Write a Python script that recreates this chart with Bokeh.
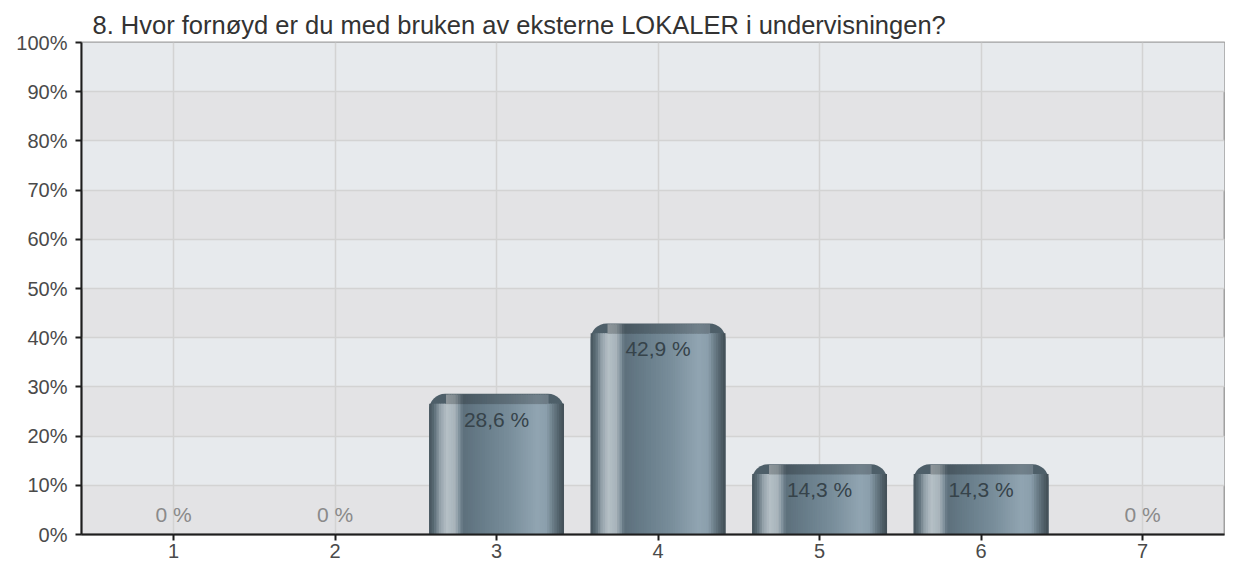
from bokeh.plotting import figure
from bokeh.models import Range1d, FixedTicker, PrintfTickFormatter
from bokeh.core.properties import value
from bokeh.embed import file_html
from bokeh.resources import INLINE

# ---- data ----
categories = [1, 2, 3, 4, 5, 6, 7]
percent = [0.0, 0.0, 28.6, 42.9, 14.3, 14.3, 0.0]
title_text = "8. Hvor fornøyd er du med bruken av eksterne LOKALER i undervisningen?"
y_ticks = [0, 10, 20, 30, 40, 50, 60, 70, 80, 90, 100]
band_bottoms = [10, 30, 50, 70, 90]

def fmt(v):
    return "0 %" if v == 0 else ("%.1f %%" % v).replace(".", ",")

labels = [fmt(v) for v in percent]

# ---- style ----
FONT = "Liberation Sans"
BAR_W = 0.835
CAP = 2.0           # height of the darker rounded cap, data units
RADIUS_PX = 16
RADIUS_FRAC = 0.11  # corner radius relative to bar width
X0, X1 = 0.43, 7.507
N_STRIPS = 56
gradient_keys = [
    (0.00, "#44535c"), (0.04, "#5e6f79"), (0.08, "#93a1a9"), (0.13, "#b5c0c6"),
    (0.19, "#a8b4bb"), (0.225, "#7f909b"), (0.25, "#5d707c"), (0.40, "#687d8a"),
    (0.60, "#798e9b"), (0.80, "#91a5b2"), (0.87, "#8b9fac"), (0.92, "#6a7c87"),
    (0.97, "#4d5c65"), (1.00, "#424e56"),
]

def _rgb(h):
    return tuple(int(h[i:i + 2], 16) for i in (1, 3, 5))

def grad_color(f, k=1.0):
    for (fa, ca), (fb, cb) in zip(gradient_keys[:-1], gradient_keys[1:]):
        if fa <= f <= fb:
            t = 0 if fb == fa else (f - fa) / (fb - fa)
            a, b = _rgb(ca), _rgb(cb)
            c = [int(round((a[i] + (b[i] - a[i]) * t) * k)) for i in range(3)]
            return "#%02x%02x%02x" % tuple(c)
    return gradient_keys[-1][1]

p = figure(width=1225, height=562, output_backend="svg", toolbar_location=None,
           x_range=Range1d(X0, X1), y_range=Range1d(0, 100),
           min_border_left=81, min_border_right=1, min_border_top=42, min_border_bottom=28)

p.background_fill_color = "#e3e3e5"
p.border_fill_color = "white"
p.outline_line_color = "#a0a0a0"
p.outline_line_width = 2

# background bands
p.quad(left=X0, right=X1, bottom=band_bottoms, top=[b + 10 for b in band_bottoms],
       fill_color="#e7eaed", line_color=None, level="image")

# grid
p.xgrid.ticker = FixedTicker(ticks=categories)
p.ygrid.ticker = FixedTicker(ticks=y_ticks)
for g in (p.xgrid, p.ygrid):
    g.grid_line_color = "#d3d3d3"
    g.grid_line_width = 1.5

# bars: rounded dark base + gradient strips
p.vbar(x=categories, top=percent, width=BAR_W, bottom=0, fill_color="#4e5f69",
       line_color=None, border_radius=(RADIUS_PX, RADIUS_PX, 0, 0))
sl, sr, sb, st, sc = [], [], [], [], []
step = 1.0 / N_STRIPS
for x, v in zip(categories, percent):
    if v <= 0:
        continue
    left_edge = x - BAR_W / 2
    for i in range(N_STRIPS):
        f0, f1 = i * step, (i + 1) * step
        fm = (f0 + f1) / 2
        r = min(1.0, f1 + step * 0.6)
        # body
        sl.append(left_edge + f0 * BAR_W)
        sr.append(left_edge + r * BAR_W)
        sb.append(0)
        st.append(v - CAP)
        sc.append(grad_color(fm))
        # cap (away from rounded corners)
        if RADIUS_FRAC <= f0 and f1 <= 1 - RADIUS_FRAC:
            sl.append(left_edge + f0 * BAR_W)
            sr.append(left_edge + min(1 - RADIUS_FRAC, f1 + step * 0.6) * BAR_W)
            sb.append(v - CAP - 0.1)
            st.append(v - 0.15)
            sc.append(grad_color(fm, 0.78))
p.quad(left=sl, right=sr, bottom=sb, top=st, fill_color=sc, line_color=None)

# value labels
pos_x = [x for x, v in zip(categories, percent) if v > 0]
pos_y = [v for v in percent if v > 0]
pos_t = [l for l, v in zip(labels, percent) if v > 0]
zero_x = [x for x, v in zip(categories, percent) if v == 0]
zero_y = [v for v in percent if v == 0]
zero_t = [l for l, v in zip(labels, percent) if v == 0]
p.text(x=pos_x, y=pos_y, text=pos_t, text_align="center", text_baseline="top",
       y_offset=14, text_font=value(FONT), text_font_size="21px", text_color="#36434a")
p.text(x=zero_x, y=zero_y, text=zero_t, text_align="center", text_baseline="bottom",
       y_offset=-9, text_font=value(FONT), text_font_size="21px", text_color="#8a8a8a")

# axes
p.xaxis.ticker = FixedTicker(ticks=categories)
p.yaxis.ticker = FixedTicker(ticks=y_ticks)
p.yaxis.formatter = PrintfTickFormatter(format="%d%%")
for ax in (p.xaxis, p.yaxis):
    ax.axis_line_color = "#1e1e1e"
    ax.axis_line_width = 2
    ax.major_tick_line_color = "#1e1e1e"
    ax.major_tick_line_width = 2
    ax.major_tick_out = 6
    ax.major_tick_in = 0
    ax.minor_tick_line_color = None
    ax.major_label_text_font = FONT
    ax.major_label_text_font_size = "20px"
    ax.major_label_text_color = "#4a4a4a"
p.xaxis.major_label_standoff = 3
p.yaxis.major_label_standoff = 8

p.title.text = title_text
p.title.text_font = FONT
p.title.text_font_size = "25.5px"
p.title.text_font_style = "normal"
p.title.text_color = "#333333"
p.title.offset = 11
p.title.standoff = 8

open("out.html", "w").write(file_html(p, INLINE))
